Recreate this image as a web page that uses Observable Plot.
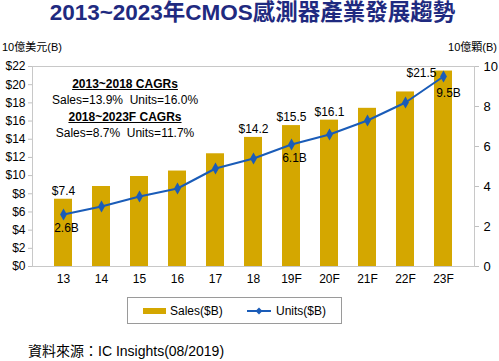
<!DOCTYPE html>
<html><head><meta charset="utf-8">
<script src="https://cdn.jsdelivr.net/npm/d3@7"></script>
<script src="https://cdn.jsdelivr.net/npm/@observablehq/plot@0.6"></script>
<style>
body{margin:0;background:#fff;}
#wrap{position:relative;width:499px;height:361px;font-family:"Liberation Sans",Arial,"Noto Sans CJK TC",sans-serif;color:#000;overflow:hidden;}
#title{position:absolute;left:0;top:0;width:505px;text-align:center;font-size:22.5px;font-weight:bold;color:#1f2a80;line-height:26px;}
.unit{position:absolute;top:40px;font-size:11px;line-height:14px;}
#chart{position:absolute;left:0;top:40px;}
#cagr{position:absolute;left:25px;width:200px;top:76px;text-align:center;font-size:12px;line-height:16.3px;}
#cagr b{text-decoration:underline;}
#legend{position:absolute;left:127px;top:297px;width:213px;height:25px;border:1px solid #9a9a9a;font-size:12px;}
#source{position:absolute;left:28px;top:342px;font-size:14px;line-height:18px;}
#chart svg [aria-label="y-axis tick"] path,#chart svg [aria-label="y-axis tick"]{stroke:#c0c0c0;}
</style></head>
<body><div id="wrap">
<div id="title">2013~2023年CMOS感測器產業發展趨勢</div>
<div class="unit" style="left:2px">10億美元(B)</div>
<div class="unit" style="right:2px">10億顆(B)</div>
<div id="chart"></div>
<div id="cagr"><b>2013~2018 CAGRs</b><br>Sales=13.9%&nbsp;&nbsp;Units=16.0%<br><b>2018~2023F CAGRs</b><br>Sales=8.7%&nbsp;&nbsp;Units=11.7%</div>
<div id="legend"></div>
<div id="source">資料來源：IC Insights(08/2019)</div>
</div>
<script>
const years = ["13","14","15","16","17","18","19F","20F","21F","22F","23F"];
const sales = [7.4, 8.8, 9.9, 10.5, 12.4, 14.2, 15.5, 16.1, 17.4, 19.2, 21.5];
const units = [2.6, 3.0, 3.5, 3.9, 4.9, 5.4, 6.1, 6.6, 7.3, 8.2, 9.5];
const salesLabelYears = ["13","18","19F","20F"];
const unitLabelYears = ["13","19F"];
const leftTicks = [0,2,4,6,8,10,12,14,16,18,20,22];
const rightTicks = [0,2,4,6,8,10];
const barColor = "#D4A700";
const lineColor = "#1a5cb8";
const ratio = 22 / 10;

const data = years.map((y, i) => ({year: y, sales: sales[i], units: units[i]}));

const chart = Plot.plot({
  width: 499,
  height: 250,
  marginLeft: 32,
  marginRight: 25,
  marginTop: 26,
  marginBottom: 24,
  style: {fontFamily: '"Liberation Sans", Arial, sans-serif', fontSize: "12px", color: "#000", background: "transparent"},
  x: {domain: years, padding: 0.53, label: null},
  y: {domain: [0, 22], label: null},
  marks: [
    Plot.frame({stroke: "#c8c8c8"}),
    Plot.barY(data, {x: "year", y: "sales", fill: barColor}),
    Plot.axisY({anchor: "left", ticks: leftTicks, tickFormat: d => "$" + d, tickSize: 4, tickPadding: 3, label: null}),
    Plot.axisY({anchor: "right", ticks: rightTicks.map(v => v * ratio), tickFormat: d => String(Math.round(d / ratio)), tickSize: 4, tickPadding: 5, label: null, fontSize: 13}),
    Plot.axisX({tickSize: 0, tickPadding: 8, label: null}),
    Plot.line(data, {x: "year", y: d => d.units * ratio, stroke: lineColor, strokeWidth: 2}),
    Plot.dot(data, {x: "year", y: d => d.units * ratio, symbol: "diamond", r: 3.6, fill: lineColor, stroke: "none"}),
    Plot.text(data.filter(d => salesLabelYears.includes(d.year)), {x: "year", y: "sales", text: d => "$" + d.sales.toFixed(1), dy: -8, lineAnchor: "middle", fontSize: 12}),
    Plot.text(data.filter(d => d.year === "23F"), {x: "year", y: "sales", text: d => "$" + d.sales.toFixed(1), dx: -22, dy: 2, lineAnchor: "middle", fontSize: 12}),
    Plot.text(data.filter(d => unitLabelYears.includes(d.year)), {x: "year", y: d => d.units * ratio, text: d => d.units.toFixed(1) + "B", dx: 3, dy: 14, lineAnchor: "middle", fontSize: 12}),
    Plot.text(data.filter(d => d.year === "23F"), {x: "year", y: d => d.units * ratio, text: d => d.units.toFixed(1) + "B", dx: 5, dy: 17, lineAnchor: "middle", fontSize: 12})
  ]
});
document.getElementById("chart").appendChild(chart);

// Legend
const leg = d3.select("#legend").append("svg").attr("width", 213).attr("height", 25)
  .style("font-family", '"Liberation Sans", Arial, sans-serif').style("font-size", "12px");
leg.append("rect").attr("x", 15).attr("y", 10).attr("width", 23).attr("height", 6).attr("fill", barColor);
leg.append("text").attr("x", 42).attr("y", 13).attr("dy", "0.35em").text("Sales($B)");
leg.append("line").attr("x1", 119).attr("x2", 143).attr("y1", 13).attr("y2", 13).attr("stroke", lineColor).attr("stroke-width", 2);
leg.append("path").attr("d", d3.symbol(d3.symbolDiamond2, 30)()).attr("transform", "translate(131,13)").attr("fill", lineColor);
leg.append("text").attr("x", 148).attr("y", 13).attr("dy", "0.35em").text("Units($B)");
</script>
</body></html>
